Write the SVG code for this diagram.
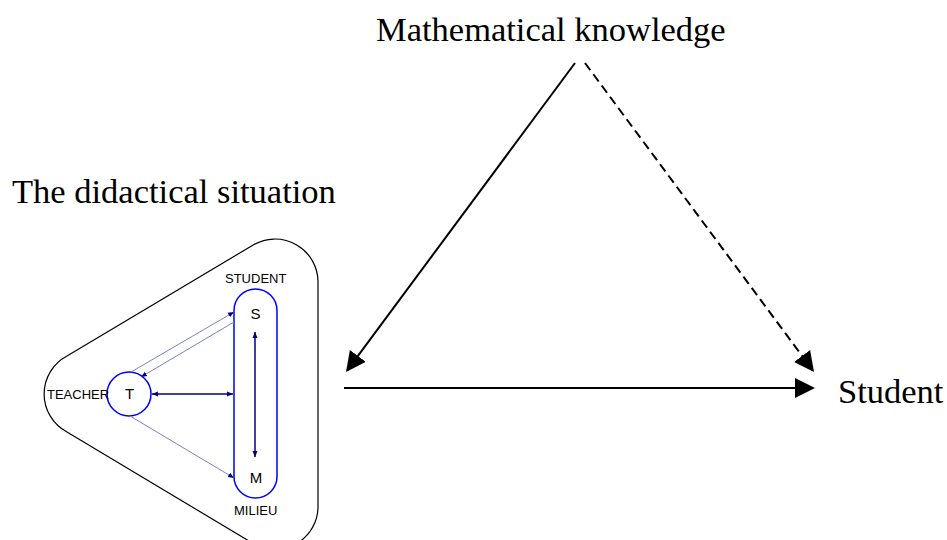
<svg xmlns="http://www.w3.org/2000/svg" width="947" height="540" viewBox="0 0 947 540">
<style>
.serif{font-family:"Liberation Serif","Times New Roman",serif;font-size:34.5px;fill:#000}
.sans{font-family:"Liberation Sans",Arial,sans-serif;font-size:13px;fill:#000}
.letter{font-family:"Liberation Sans",Arial,sans-serif;font-size:15px;fill:#000;text-anchor:middle}
.big{stroke:#000;stroke-width:2;fill:none}
.navy{stroke:#000080;stroke-width:1.5;fill:none}
.light{stroke:#8080c8;stroke-width:1;fill:none}
.blue{stroke:#0000ff;stroke-width:1.5;fill:none}
</style>
<defs>
<marker id="bigHead" markerUnits="userSpaceOnUse" markerWidth="20" markerHeight="20" refX="18" refY="10" orient="auto" viewBox="0 0 20 20">
<path d="M0,0 L20,10 L0,20 Z" fill="#000"/>
</marker>
<marker id="smallHead" markerUnits="userSpaceOnUse" markerWidth="6" markerHeight="6" refX="6" refY="3" orient="auto-start-reverse" viewBox="0 0 6 6">
<path d="M0,0.5 L6,3 L0,5.5 Z" fill="#000080"/>
</marker>
</defs>

<g id="title-knowledge"><text class="serif" x="376" y="41">Mathematical knowledge</text></g>
<g id="title-situation"><text class="serif" x="12" y="203">The didactical situation</text></g>
<g id="node-student-big"><text class="serif" x="838" y="403">Student</text></g>

<g id="situation-frame">
<path d="M67,356 L254,244.5 A43,43 0 0 1 318,281 L318,507.5 A43,43 0 0 1 254,544 L67,432 A43,43 0 0 1 67,356 Z" fill="none" stroke="#000" stroke-width="1.2"/>
</g>

<g id="node-SM">
<rect x="234" y="289" width="43" height="209" rx="21.5" ry="21.5" class="blue"/>
<text class="letter" x="255.5" y="319">S</text>
<text class="letter" x="256" y="483">M</text>
<text class="sans" x="225" y="283">STUDENT</text>
<text class="sans" x="234" y="515">MILIEU</text>
</g>

<g id="node-T">
<circle cx="129" cy="394" r="22" class="blue"/>
<text class="letter" x="129.5" y="399">T</text>
<text class="sans" x="47" y="399">TEACHER</text>
</g>

<g id="connectors">
<line x1="575" y1="63" x2="347.2" y2="370.4" class="big" marker-end="url(#bigHead)"/>
<line x1="585" y1="63" x2="812.8" y2="370.4" class="big" stroke-dasharray="9,5" marker-end="url(#bigHead)"/>
<line x1="344" y1="388" x2="813" y2="388" class="big" marker-end="url(#bigHead)"/>

<line x1="152" y1="394" x2="233" y2="394" class="navy" marker-start="url(#smallHead)" marker-end="url(#smallHead)"/>
<line x1="255" y1="332" x2="255" y2="457" class="navy" marker-start="url(#smallHead)" marker-end="url(#smallHead)"/>
<line x1="131" y1="372" x2="234" y2="312" class="light" marker-end="url(#smallHead)"/>
<line x1="234" y1="322" x2="141" y2="377" class="light" marker-end="url(#smallHead)"/>
<line x1="130" y1="416" x2="234" y2="478" class="light" marker-end="url(#smallHead)"/>
</g>
</svg>
